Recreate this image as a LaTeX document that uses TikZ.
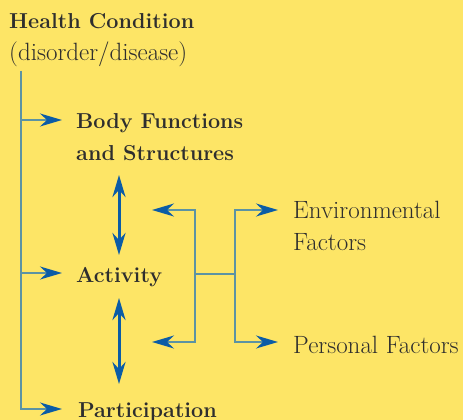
\documentclass[tikz,border=0pt]{standalone}
\usepackage{fontspec}
\usetikzlibrary{arrows.meta}
\definecolor{bg}{HTML}{FDE566}
\definecolor{txt}{HTML}{2E2E2E}
\definecolor{arrblue}{HTML}{0B5CA6}
\definecolor{thinc}{HTML}{5C93A3}
\tikzset{
  lbl/.style={inner sep=0pt, text=txt, anchor=base west},
  boldlbl/.style={lbl, font=\fontsize{21.6}{32}\selectfont\bfseries},
  reglbl/.style={lbl, font=\fontsize{25}{32}\selectfont},
  tip/.tip={Stealth[length=22pt, width=13pt, inset=7pt, color=arrblue, fill=arrblue]},
  thinline/.style={draw=thinc, line width=1.5pt},
  dblarrow/.style={draw=arrblue, line width=3pt, tip-tip},
}
\begin{document}
\begin{tikzpicture}[x=1pt, y=-1pt]
\fill[bg] (0,0) rectangle (463,420);
\useasboundingbox (0,0) rectangle (463,420);

% labels (multi-line nodes: base = last line's baseline)
\node[boldlbl] (hc) at (9,29) {Health Condition};
\node[reglbl] (dis) at (9,61) {(disorder/disease)};
\node[boldlbl, align=left] (body) at (76,160) {Body Functions\\and Structures};
\node[boldlbl] (act) at (76,282) {Activity};
\node[boldlbl] (part) at (78,417) {Participation};
\node[reglbl, align=left] (env) at (293,250) {Environmental\\Factors};
\node[reglbl] (pers) at (293,353) {Personal Factors};

% trunk coordinates
\coordinate (ttop) at (21,71);
\coordinate (tb) at (21,120);
\coordinate (ta) at (21,273);
\coordinate (btip) at (62,120);
\coordinate (atip) at (62,273);
\coordinate (ptip) at (62,409);

\draw[thinline, -tip] (ttop) |- (ptip);
\draw[thinline, -tip] (tb) -- (btip);
\draw[thinline, -tip] (ta) -- (atip);

% double arrows
\coordinate (d1a) at (119,175);
\coordinate (d1b) at (119,255);
\coordinate (d2a) at (119,298);
\coordinate (d2b) at (119,384);
\draw[dblarrow] (d1a) -- (d1b);
\draw[dblarrow] (d2a) -- (d2b);

% bracket
\coordinate (lt1) at (152,210);
\coordinate (lc1) at (195,210);
\coordinate (lc2) at (195,342);
\coordinate (lt2) at (152,342);
\coordinate (lm) at (195,274);
\coordinate (rm) at (235,274);
\coordinate (rc1) at (235,210);
\coordinate (rc2) at (235,342);
\coordinate (rt1) at (278,210);
\coordinate (rt2) at (278,342);
\draw[thinline, tip-tip] (lt1) -- (lc1) -- (lc2) -- (lt2);
\draw[thinline, tip-tip] (rt1) -- (rc1) -- (rc2) -- (rt2);
\draw[thinline] (lm) -- (rm);
\end{tikzpicture}
\end{document}
